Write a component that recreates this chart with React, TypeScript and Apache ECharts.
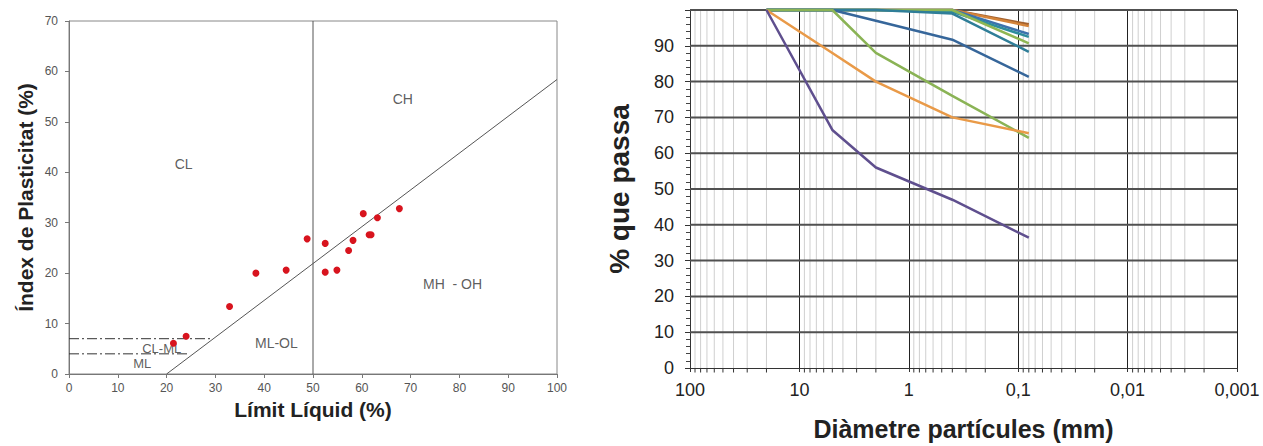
import React, { useEffect, useRef } from 'react';
import * as echarts from 'echarts';

// ---------- Left chart: plasticity chart ----------
const liquidLimit = [21.4, 24.0, 32.9, 38.3, 44.5, 48.8, 52.5, 52.5, 54.9, 57.3, 58.2, 60.3, 61.5, 61.9, 63.2, 67.7];
const plasticityIndex = [6.1, 7.5, 13.4, 20.0, 20.6, 26.8, 25.9, 20.2, 20.6, 24.5, 26.5, 31.8, 27.6, 27.6, 31.0, 32.8];

const aLineLL = [20, 100];
const aLinePI = [0, 58.4];
const llBoundLL = [50, 50];
const llBoundPI = [0, 70];
const clmlLL = [0, 29.5];
const clmlPI = [7, 7];
const mlLL = [0, 24.5];
const mlPI = [4, 4];

const zoneNames = ['CL', 'CH', 'MH  - OH', 'ML-OL', 'CL-ML', 'ML'];
const zoneLL = [23.5, 68.4, 78.6, 42.5, 19.0, 15.0];
const zonePI = [41.6, 54.6, 17.9, 6.1, 5.1, 2.1];
const zoneFont = [14, 14, 14, 14, 13, 13];

// ---------- Right chart: grain size curves ----------
const sieveSizes = [20, 5, 2, 0.4, 0.08];
const curveBrown = [100, 100, 100, 100, 96.0];
const curveOrange2 = [100, 100, 100, 100, 95.5];
const curveBlue = [100, 100, 100, 100, 93.3];
const curveTeal = [100, 100, 100, 99.5, 92.5];
const curveGreen2 = [100, 100, 100, 100, 90.7];
const curveTeal2 = [100, 100, 100, 99.0, 88.3];
const curveDarkBlue = [100, 100, 97.0, 91.7, 81.3];
const curveGreen = [100, 100, 88.0, 76.0, 64.3];
const curveOrange = [100, 88.0, 80.0, 70.0, 65.6];
const curvePurple = [100, 66.5, 56.0, 47.0, 36.4];

const curves = [curveBrown, curveOrange2, curveBlue, curveTeal, curveGreen2, curveTeal2, curveDarkBlue, curveGreen, curveOrange, curvePurple];
const curveColors = ['#a3612e', '#d4843a', '#3d72ad', '#2e8d9c', '#8fb653', '#2f7e98', '#36669a', '#8ab355', '#e99a48', '#5f4f8e'];

const decadeExponents = [-3, -2, -1, 0, 1];
const minorMultipliers = [2, 3, 4, 5, 6, 7, 8, 9];
const percentTicks = [10, 20, 30, 40, 50, 60, 70, 80, 90, 100];

const FONT = 'Liberation Sans, Arial, sans-serif';

function decadeLabel(v: number): string {
  const e = Math.round(Math.log10(v));
  if (e >= 0) return String(Math.pow(10, e));
  return '0,' + '0'.repeat(-e - 1) + '1';
}

export default function App() {
  const ref = useRef<HTMLDivElement>(null);
  useEffect(() => {
    if (!ref.current) return;
    const chart = echarts.init(ref.current, undefined, { renderer: 'svg' });

    const minorVals: number[] = [];
    decadeExponents.forEach((e) => minorMultipliers.forEach((k) => minorVals.push(Number((k * Math.pow(10, e)).toPrecision(3)))));

    const minorGridData: any[] = [];
    minorVals.forEach((v) => {
      minorGridData.push([v, 0], [v, 100], [v, '-']);
    });
    const majorHData: any[] = [];
    percentTicks.forEach((p) => {
      majorHData.push([0.001, p], [100, p], [100, '-']);
    });

    const line2 = (xs: number[], ys: number[]) => xs.map((x, i) => [x, ys[i]]);

    const option: any = {
      animation: false,
      grid: [
        { left: 69, top: 21, width: 488, height: 353, show: true, borderColor: '#888', borderWidth: 1 },
        { left: 690, top: 10, width: 547, height: 358 },
      ],
      xAxis: [
        {
          type: 'value', gridIndex: 0, min: 0, max: 100, interval: 10,
          axisLine: { lineStyle: { color: '#777' } },
          axisTick: { show: true, length: 4, lineStyle: { color: '#777' } },
          axisLabel: { color: '#555', fontSize: 12, margin: 8, fontFamily: FONT },
          splitLine: { show: false },
          name: 'Límit Líquid (%)', nameLocation: 'middle', nameGap: 24,
          nameTextStyle: { fontSize: 21, fontWeight: 'bold', color: '#222', fontFamily: FONT },
        },
        {
          type: 'log', logBase: 10, gridIndex: 1, min: 0.001, max: 100, inverse: true, splitNumber: 5,
          axisLine: { lineStyle: { color: '#333' } },
          axisTick: { show: true, length: 4, lineStyle: { color: '#333' } },
          axisLabel: { color: '#222', fontSize: 18, margin: 13, fontFamily: FONT, formatter: (v: number) => decadeLabel(v) },
          splitLine: { show: true, lineStyle: { color: '#222', width: 1 } },
          name: 'Diàmetre partícules (mm)', nameLocation: 'middle', nameGap: 48,
          nameTextStyle: { fontSize: 25, fontWeight: 'bold', color: '#222', fontFamily: FONT },
        },
      ],
      yAxis: [
        {
          type: 'value', gridIndex: 0, min: 0, max: 70, interval: 10,
          axisLine: { show: true, lineStyle: { color: '#777' } },
          axisTick: { show: true, length: 4, lineStyle: { color: '#777' } },
          axisLabel: { color: '#555', fontSize: 12, margin: 11, fontFamily: FONT },
          splitLine: { show: false },
          name: 'Índex de Plasticitat (%)', nameLocation: 'middle', nameGap: 33,
          nameTextStyle: { fontSize: 21, fontWeight: 'bold', color: '#222', fontFamily: FONT },
        },
        {
          type: 'value', gridIndex: 1, min: 0, max: 100, interval: 10,
          axisLine: { show: true, lineStyle: { color: '#333' } },
          axisTick: { show: true, length: 5, lineStyle: { color: '#333' } },
          minorTick: { show: true, splitNumber: 5, length: 4, lineStyle: { color: '#444' } },
          axisLabel: { color: '#222', fontSize: 18, margin: 16, fontFamily: FONT, formatter: (v: number) => (v === 100 ? '' : String(v)) },
          splitLine: { show: false },
          name: '% que passa', nameLocation: 'middle', nameGap: 57,
          nameTextStyle: { fontSize: 28, fontWeight: 'bold', color: '#222', fontFamily: FONT },
        },
      ],
      series: [
        // left chart reference lines
        { type: 'line', xAxisIndex: 0, yAxisIndex: 0, data: line2(aLineLL, aLinePI), symbol: 'none', silent: true, lineStyle: { color: '#555', width: 1 } },
        { type: 'line', xAxisIndex: 0, yAxisIndex: 0, data: line2(llBoundLL, llBoundPI), symbol: 'none', silent: true, lineStyle: { color: '#555', width: 1 } },
        { type: 'line', xAxisIndex: 0, yAxisIndex: 0, data: line2(clmlLL, clmlPI), symbol: 'none', silent: true, lineStyle: { color: '#333', width: 1, type: [10, 3, 2, 3] } },
        { type: 'line', xAxisIndex: 0, yAxisIndex: 0, data: line2(mlLL, mlPI), symbol: 'none', silent: true, lineStyle: { color: '#333', width: 1, type: [10, 3, 2, 3] } },
        {
          type: 'scatter', xAxisIndex: 0, yAxisIndex: 0, symbolSize: 0, silent: true,
          data: zoneNames.map((n, i) => ({ value: [zoneLL[i], zonePI[i]], name: n, label: { fontSize: zoneFont[i] } })),
          label: { show: true, position: 'inside', formatter: (p: any) => p.name, color: '#333', fontFamily: FONT },
        },
        {
          type: 'scatter', xAxisIndex: 0, yAxisIndex: 0, symbolSize: 7, z: 4,
          itemStyle: { color: '#d8141e', opacity: 1 },
          data: line2(liquidLimit, plasticityIndex),
        },
        // right chart grid lines
        { type: 'line', xAxisIndex: 1, yAxisIndex: 1, data: minorGridData, symbol: 'none', silent: true, z: 1, connectNulls: false, lineStyle: { color: '#cfcfcf', width: 1 } },
        { type: 'line', xAxisIndex: 1, yAxisIndex: 1, data: majorHData, symbol: 'none', silent: true, z: 1, clip: false, connectNulls: false, lineStyle: { color: '#505050', width: 2 } },
        {
          type: 'scatter', xAxisIndex: 1, yAxisIndex: 1, silent: true, clip: false, z: 1,
          symbol: 'rect', symbolSize: [1, 4], symbolOffset: [0, 2.5],
          itemStyle: { color: '#333', opacity: 1 },
          data: minorVals.map((v) => [v, 0]),
        },
        // grain size curves
        ...curves.map((c, i) => ({
          type: 'line', xAxisIndex: 1, yAxisIndex: 1, symbol: 'none', clip: false, z: 3,
          lineStyle: { color: curveColors[i], width: 2.5 },
          data: line2(sieveSizes, c),
        })),
      ],
    };
    chart.setOption(option);
    return () => chart.dispose();
  }, []);
  return <div ref={ref} style={{ position: 'absolute', left: 0, top: 0, width: 1263, height: 446, background: '#fff' }} />;
}
